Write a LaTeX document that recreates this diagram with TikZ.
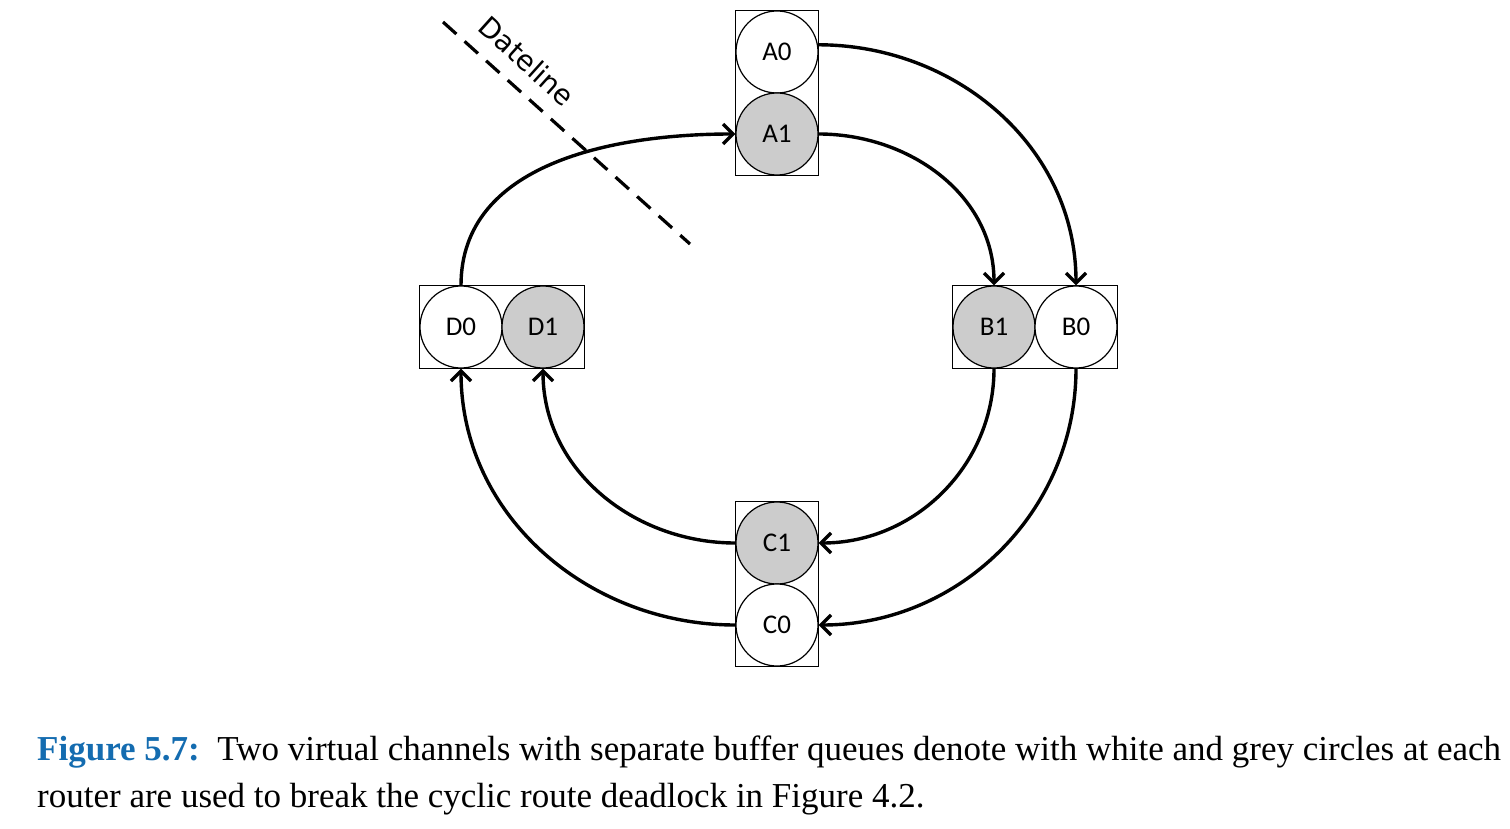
\documentclass[tikz,border=0pt]{standalone}
\usepackage{fontspec}
\setmainfont{Liberation Serif}
\newfontfamily\labelfont{Carlito}
\newfontfamily\datefont{DejaVu Sans}
\usetikzlibrary{arrows.meta,fit}
\definecolor{capblue}{RGB}{20,108,176}
\definecolor{vcgrey}{RGB}{204,204,204}
\tikzset{
  vc/.style={circle,draw,line width=1.2pt,minimum size=82pt,inner sep=0pt,font=\labelfont\fontsize{27}{30}\selectfont},
  vcwhite/.style={vc,fill=white},
  vcgray/.style={vc,fill=vcgrey},
  router/.style={draw,line width=1.2pt,inner sep=0pt},
  link/.style={line width=3.4pt,-{Straight Barb[length=10pt,width=20pt]}},
  capfont/.style={font=\fontsize{35}{42}\selectfont}
}
\begin{document}
\begin{tikzpicture}[x=1pt,y=-1pt]
\useasboundingbox (0,0) rectangle (1510,829);
% router A
\node[vcwhite] (A0) at (777,52) {A0};
\node[vcgray]  (A1) at (777,134) {A1};
\node[router,fit=(A0)(A1)] (A) {};
% router D
\node[vcwhite] (D0) at (461,327) {D0};
\node[vcgray]  (D1) at (543,327) {D1};
\node[router,fit=(D0)(D1)] (D) {};
% router B
\node[vcgray]  (B1) at (994,327) {B1};
\node[vcwhite] (B0) at (1076,327) {B0};
\node[router,fit=(B1)(B0)] (B) {};
% router C
\node[vcgray]  (C1) at (777,543) {C1};
\node[vcwhite] (C0) at (777,625) {C0};
\node[router,fit=(C1)(C0)] (C) {};
% dateline
\coordinate (dl1) at (443,22);
\coordinate (dl2) at (690,244);
\draw[line width=3.2pt,dash pattern=on 18pt off 11pt] (dl1) -- (dl2);
\node[font=\datefont\fontsize{28}{32}\selectfont,rotate=-42,inner sep=0pt] (dlabel) at (527,61) {Dateline};
% links
\draw[link] (A0.10) to[out=0,in=90] (B0.north);
\draw[link] (A1.east) to[out=0,in=90] (B1.north);
\draw[link] (B1.south) to[out=-90,in=0] (C1.east);
\draw[link] (B0.south) to[out=-90,in=0] (C0.east);
\draw[link] (C1.west) to[out=180,in=-90] (D1.south);
\draw[link] (C0.west) to[out=180,in=-90] (D0.south);
\draw[link] (D0.north) to[out=90,in=180] (A1.west);
% caption
\node[capfont,anchor=base west,inner sep=0pt] (cap1) at (37,760) {\textcolor{capblue}{\textbf{Figure 5.7:}}\ \ Two virtual channels with separate buffer queues denote with white and grey circles at each};
\node[capfont,anchor=base west,inner sep=0pt] (cap2) at (37,807) {router are used to break the cyclic route deadlock in Figure 4.2.};
\end{tikzpicture}
\end{document}
